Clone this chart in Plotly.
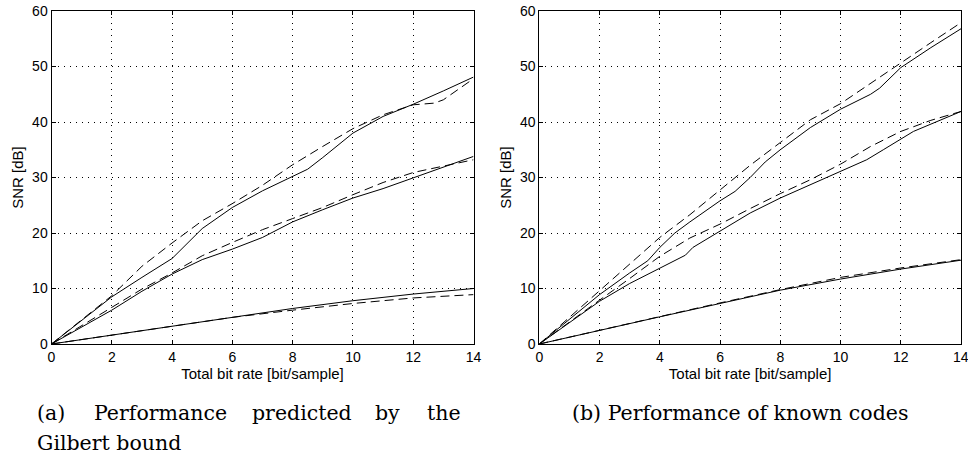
import plotly.graph_objects as go

# ---------------- data: (a) Gilbert bound ----------------
a_hi_solid_x = [0, 1, 2, 3, 4, 5, 6, 7, 8, 8.5, 9, 10, 11, 12, 13, 14]
a_hi_solid_y = [0, 4.3, 8.5, 12.0, 15.4, 20.8, 24.6, 27.6, 30.3, 31.5, 33.6, 38.0, 41.0, 43.2, 45.6, 48.1]
a_hi_dash_x = [0, 1, 2, 3, 4, 5, 6, 7, 8, 9, 10, 11, 12, 12.7, 13, 14]
a_hi_dash_y = [0, 4.4, 8.7, 14.0, 18.2, 22.2, 25.3, 28.6, 32.3, 35.6, 38.8, 41.3, 43.1, 43.4, 44.0, 47.8]

a_mid_solid_x = [0, 1, 2, 3, 4, 5, 6, 7, 8, 9, 10, 11, 12, 13, 14]
a_mid_solid_y = [0, 3.1, 6.1, 9.5, 12.6, 15.2, 17.1, 19.2, 22.0, 24.2, 26.3, 28.0, 29.9, 31.9, 33.8]
a_mid_dash_x = [0, 1, 2, 3, 4, 5, 6, 7, 8, 9, 10, 11, 12, 13, 14]
a_mid_dash_y = [0, 3.3, 6.6, 9.9, 12.8, 15.9, 18.3, 20.6, 22.6, 24.6, 26.9, 29.1, 30.9, 32.1, 33.2]

a_low_x = [0, 2, 4, 6, 8, 10, 12, 14]
a_low_solid_y = [0, 1.6, 3.2, 4.9, 6.4, 7.8, 9.0, 10.0]
a_low_dash_y = [0, 1.6, 3.2, 4.8, 6.1, 7.3, 8.3, 8.9]

# ---------------- data: (b) known codes ----------------
b_hi_solid_x = [0, 1, 2, 3, 3.6, 4, 4.5, 5, 6, 6.5, 7, 7.5, 8, 9, 10, 11, 11.3, 12, 13, 14]
b_hi_solid_y = [0, 4.5, 8.9, 12.8, 15.0, 17.4, 20.0, 22.0, 25.8, 27.5, 30.0, 32.8, 35.0, 39.0, 42.3, 45.0, 46.1, 49.8, 53.4, 56.8]
b_hi_dash_x = [0, 1, 2, 3, 4, 5, 6, 7, 8, 9, 10, 11, 12, 13, 14]
b_hi_dash_y = [0, 4.8, 9.6, 14.4, 19.2, 23.3, 27.8, 32.2, 36.3, 40.4, 43.3, 47.0, 50.6, 54.3, 57.9]

b_mid_solid_x = [0, 1, 2, 3, 4, 4.85, 5.1, 6, 6.66, 7, 8, 9.32, 10.87, 11.42, 12.42, 14]
b_mid_solid_y = [0, 3.9, 7.7, 10.9, 13.6, 16.0, 17.4, 20.4, 22.6, 23.6, 26.3, 29.5, 33.2, 35.0, 38.3, 41.9]
b_mid_dash_x = [0, 1, 2, 3, 4, 5, 6, 7, 8, 9, 10, 11, 12, 13, 14]
b_mid_dash_y = [0, 4.0, 7.9, 11.8, 15.8, 19.1, 21.6, 24.4, 27.1, 29.6, 32.4, 35.6, 38.3, 40.3, 41.9]

b_low_x = [0, 2, 4, 6, 8, 10, 12, 14]
b_low_solid_y = [0, 2.5, 4.9, 7.3, 9.7, 11.7, 13.5, 15.1]
b_low_dash_y = [0, 2.5, 4.9, 7.4, 9.8, 12.0, 13.7, 15.2]

x_ticks = [0, 2, 4, 6, 8, 10, 12, 14]
y_ticks = [0, 10, 20, 30, 40, 50, 60]
x_title = "Total bit rate [bit/sample]"
y_title = "SNR [dB]"
caption_a_line1 = ["(a)", "Performance", "predicted", "by", "the"]
caption_a_line2 = "Gilbert bound"
caption_b = "(b) Performance of known codes"

fig = go.Figure()

SOLID = dict(color="black", width=1)
DASH = dict(color="black", width=1, dash="9px,5px")

def add(x, y, line, xa, ya):
    fig.add_trace(go.Scatter(x=x, y=y, mode="lines", line=line, xaxis=xa, yaxis=ya,
                             showlegend=False, hoverinfo="skip"))

add(a_hi_solid_x, a_hi_solid_y, SOLID, "x", "y")
add(a_hi_dash_x, a_hi_dash_y, DASH, "x", "y")
add(a_mid_solid_x, a_mid_solid_y, SOLID, "x", "y")
add(a_mid_dash_x, a_mid_dash_y, DASH, "x", "y")
add(a_low_x, a_low_solid_y, SOLID, "x", "y")
add(a_low_x, a_low_dash_y, DASH, "x", "y")

add(b_hi_solid_x, b_hi_solid_y, SOLID, "x2", "y2")
add(b_hi_dash_x, b_hi_dash_y, DASH, "x2", "y2")
add(b_mid_solid_x, b_mid_solid_y, SOLID, "x2", "y2")
add(b_mid_dash_x, b_mid_dash_y, DASH, "x2", "y2")
add(b_low_x, b_low_solid_y, SOLID, "x2", "y2")
add(b_low_x, b_low_dash_y, DASH, "x2", "y2")

W, H = 968, 456
ydom = [(H - 344) / H, (H - 11) / H]
xdom1 = [51.5 / W, 473.5 / W]
xdom2 = [539.3 / W, 961 / W]

tickfont = dict(family="Liberation Sans, Arial, sans-serif", size=14, color="black")
titlefont = dict(family="Liberation Sans, Arial, sans-serif", size=15, color="black")

def xaxis(dom, anchor):
    return dict(domain=dom, anchor=anchor, range=[0, 14], tickvals=x_ticks,
                ticks="inside", ticklen=4, tickcolor="black", mirror="ticks",
                showline=True, linecolor="black", linewidth=1,
                showgrid=True, gridcolor="black", gridwidth=1, griddash="1px,5px",
                zeroline=False, tickfont=tickfont, automargin=False,
                title=dict(text=x_title, font=titlefont, standoff=2))

def yaxis(anchor):
    return dict(domain=ydom, anchor=anchor, range=[0, 60], tickvals=y_ticks,
                ticks="inside", ticklen=4, tickcolor="black", mirror="ticks",
                showline=True, linecolor="black", linewidth=1,
                showgrid=True, gridcolor="black", gridwidth=1, griddash="1px,5px",
                zeroline=False, tickfont=tickfont, automargin=False,
                title=dict(text=y_title, font=titlefont, standoff=4))

capfont = dict(family="DejaVu Serif, serif", size=20.5, color="black")
word_x = [35, 92, 250, 373, 425]
annotations = []
for w, xp in zip(caption_a_line1, word_x):
    annotations.append(dict(text=w, x=xp / W, y=(H - 413) / H, xref="paper", yref="paper",
                            xanchor="left", yanchor="middle", showarrow=False, font=capfont))
annotations.append(dict(text=caption_a_line2, x=35 / W, y=(H - 443) / H, xref="paper", yref="paper",
                        xanchor="left", yanchor="middle", showarrow=False, font=capfont))
annotations.append(dict(text=caption_b, x=740 / W, y=(H - 413) / H, xref="paper", yref="paper",
                        xanchor="center", yanchor="middle", showarrow=False, font=capfont))
# last x tick label of panel (b), which sits at the page edge (plotly drops it)
annotations.append(dict(text=str(x_ticks[-1]), x=x_ticks[-1], xref="x2", y=(H - 357) / H, yref="paper",
                        xanchor="center", yanchor="middle", showarrow=False, font=tickfont))

fig.update_layout(
    width=W, height=H, margin=dict(l=0, r=0, t=0, b=0),
    paper_bgcolor="white", plot_bgcolor="white",
    xaxis=xaxis(xdom1, "y"), yaxis=yaxis("x"),
    xaxis2=xaxis(xdom2, "y2"), yaxis2=yaxis("x2"),
    annotations=annotations, showlegend=False,
)

fig.write_html("out.html", config={"displayModeBar": False},
               post_script="document.body.style.margin='0';document.body.style.overflow='hidden';")
